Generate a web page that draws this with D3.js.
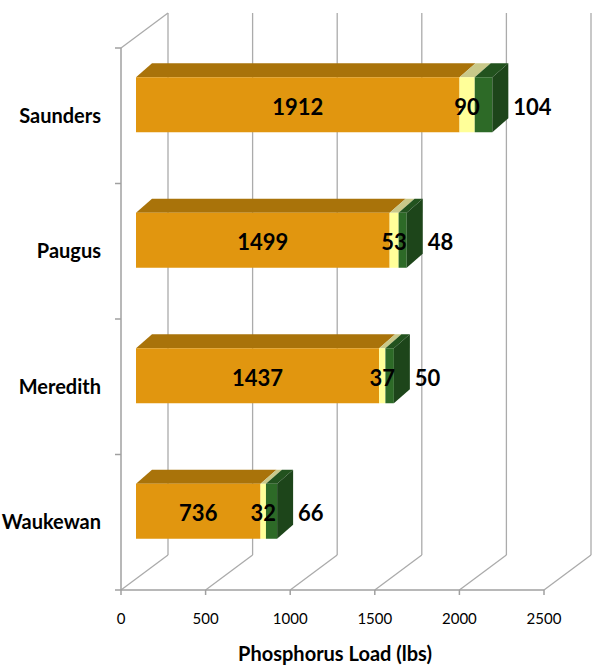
<!DOCTYPE html>
<html>
<head>
<meta charset="utf-8">
<script src="https://cdn.jsdelivr.net/npm/d3@7/dist/d3.min.js"></script>
<style>
  html, body { margin: 0; padding: 0; background: #fff; }
  svg { display: block; }
</style>
</head>
<body>
<script>
// ---- data ----
const categories = ["Saunders", "Paugus", "Meredith", "Waukewan"];
const seriesNames = ["Series A", "Series B", "Series C"];
const seriesA = [1912, 1499, 1437, 736];
const seriesB = [90, 53, 37, 32];
const seriesC = [104, 48, 50, 66];
const tickValues = [0, 500, 1000, 1500, 2000, 2500];
const axisTitle = "Phosphorus Load (lbs)";

// ---- layout ----
const W = 597, H = 667;
const x0 = 121, x1 = 544;      // front floor extent
const yTop = 48, yBot = 590;   // front left wall extent
const wallDX = 47, wallDY = -35; // depth offset of back wall
const barDX = 15, barDY = -11;   // bar front plane offset
const depthDX = 16, depthDY = -14; // bar depth

const faceColors = [
  { front: "#E1960F", top: "#A9730A", side: "#8a5e08" },
  { front: "#FFFF99", top: "#C9C98A", side: "#b0b070" },
  { front: "#2D6A27", top: "#22521E", side: "#1D451A" }
];

const svg = d3.select("body").append("svg").attr("width", W).attr("height", H);

const x = d3.scaleLinear().domain([0, 2500]).range([x0, x1]);
const y = d3.scaleBand().domain(categories).range([yTop, yBot]);

const gridColor = "#ababab";
const g = svg.append("g");

// back wall verticals
g.selectAll(".bw").data(tickValues).enter().append("line")
  .attr("x1", d => x(d) + wallDX).attr("x2", d => x(d) + wallDX)
  .attr("y1", yTop + wallDY).attr("y2", yBot + wallDY)
  .attr("stroke", gridColor).attr("stroke-width", 1.3);
// floor diagonals
g.selectAll(".fd").data(tickValues).enter().append("line")
  .attr("x1", d => x(d)).attr("x2", d => x(d) + wallDX)
  .attr("y1", yBot).attr("y2", yBot + wallDY)
  .attr("stroke", gridColor).attr("stroke-width", 1.3);
// left wall top diagonal
g.append("line").attr("x1", x0).attr("y1", yTop).attr("x2", x0 + wallDX).attr("y2", yTop + wallDY)
  .attr("stroke", gridColor).attr("stroke-width", 1.3);
// left wall vertical & front floor line
g.append("line").attr("x1", x0).attr("y1", yTop).attr("x2", x0).attr("y2", yBot)
  .attr("stroke", "#a0a0a0").attr("stroke-width", 1.5);
g.append("line").attr("x1", x0).attr("y1", yBot).attr("x2", x1).attr("y2", yBot)
  .attr("stroke", "#a0a0a0").attr("stroke-width", 1.5);
// x ticks
g.selectAll(".xt").data(tickValues).enter().append("line")
  .attr("x1", d => x(d)).attr("x2", d => x(d)).attr("y1", yBot).attr("y2", yBot + 5)
  .attr("stroke", "#a0a0a0").attr("stroke-width", 1.5);
// y ticks at band boundaries
const bounds = categories.map(c => y(c)).concat([yBot]);
g.selectAll(".yt").data(bounds).enter().append("line")
  .attr("x1", x0 - 6).attr("x2", x0).attr("y1", d => d).attr("y2", d => d)
  .attr("stroke", "#a0a0a0").attr("stroke-width", 1.5);

// tick labels
svg.selectAll(".tl").data(tickValues).enter().append("text")
  .attr("x", d => x(d)).attr("y", 624)
  .attr("text-anchor", "middle")
  .attr("font-family", "Lato, 'Open Sans', sans-serif").attr("font-size", 15)
  .attr("fill", "#000").text(d => d);

// category labels
svg.selectAll(".cl").data(categories).enter().append("text")
  .attr("x", 101).attr("y", d => y(d) + y.bandwidth() / 2)
  .attr("dy", "0.36em")
  .attr("text-anchor", "end")
  .attr("font-family", "Lato, 'Open Sans', sans-serif").attr("font-size", 20).attr("font-weight", "bold")
  .attr("fill", "#000").text(d => d);

// axis title
svg.append("text").attr("x", 335).attr("y", 661)
  .attr("text-anchor", "middle")
  .attr("font-family", "Lato, 'Open Sans', sans-serif").attr("font-size", 20).attr("font-weight", "bold")
  .attr("fill", "#000").text(axisTitle);

// ---- bars ----
const barH = 55;
const series = [seriesA, seriesB, seriesC];
const bars = svg.append("g");
categories.forEach((cat, i) => {
  const cy = y(cat) + y.bandwidth() / 2 + barDY;
  const top = cy - barH / 2, bot = cy + barH / 2;
  let cum = 0;
  const segs = series.map((s, k) => {
    const seg = { k, v: s[i], a: cum, b: cum + s[i] };
    cum += s[i];
    return seg;
  });
  const gb = bars.append("g");
  segs.forEach(seg => {
    const xa = x(seg.a) + barDX, xb = x(seg.b) + barDX;
    const col = faceColors[seg.k];
    gb.append("path")
      .attr("d", `M${xa},${top}L${xb},${top}L${xb + depthDX},${top + depthDY}L${xa + depthDX},${top + depthDY}Z`)
      .attr("fill", col.top);
    gb.append("rect").attr("x", xa).attr("y", top).attr("width", xb - xa).attr("height", barH)
      .attr("fill", col.front);
  });
  const last = segs[segs.length - 1];
  const xe = x(last.b) + barDX;
  gb.append("path")
    .attr("d", `M${xe},${top}L${xe + depthDX},${top + depthDY}L${xe + depthDX},${bot + depthDY}L${xe},${bot}Z`)
    .attr("fill", faceColors[last.k].side);

  segs.forEach(seg => {
    const xa = x(seg.a) + barDX, xb = x(seg.b) + barDX;
    let lx, anchor;
    if (seg.k === 2) { lx = xb + depthDX + 5; anchor = "start"; }
    else { lx = (xa + xb) / 2; anchor = "middle"; }
    gb.append("text").attr("x", lx).attr("y", cy + 2).attr("dy", "0.36em")
      .attr("text-anchor", anchor)
      .attr("font-family", "Lato, 'Open Sans', sans-serif").attr("font-size", 22).attr("font-weight", "bold")
      .attr("fill", "#000").text(seg.v);
  });
});
</script>
</body>
</html>
